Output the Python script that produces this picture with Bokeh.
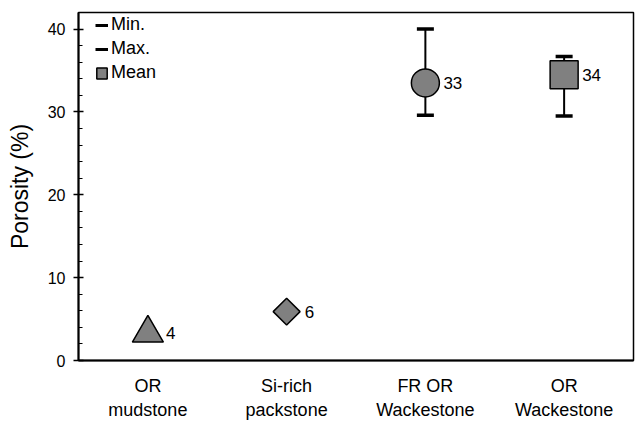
import math
from bokeh.plotting import figure
from bokeh.models import ColumnDataSource, FixedTicker, SingleIntervalTicker, Legend, LegendItem
from bokeh.core.properties import value
from bokeh.embed import file_html
from bokeh.resources import INLINE

# ---- data ----
categories = ["OR\nmudstone", "Si-rich\npackstone", "FR OR\nWackestone", "OR\nWackestone"]
means = [3.3, 5.9, 33.5, 34.5]
mins = [None, None, 29.6, 29.5]
maxs = [None, None, 40.0, 36.7]
mean_labels = ["4", "6", "33", "34"]
markers = ["triangle", "diamond", "circle", "square"]

# ---- styles ----
FONT = "Liberation Sans"
FILL = "#808080"
marker_style = {
    "triangle": ("triangle", 31, 0.0),
    "diamond": ("square", 19, math.pi / 4),
    "circle": ("circle", 28, 0.0),
    "square": ("square", 28, 0.0),
}

xs = list(range(1, len(categories) + 1))

p = figure(width=638, height=423, x_range=(0.5, 4.5), y_range=(0, 42),
           output_backend="svg", toolbar_location=None,
           min_border_left=78, min_border_right=5, min_border_top=12, min_border_bottom=63)

p.xgrid.grid_line_color = None
p.ygrid.grid_line_color = None
p.outline_line_color = "black"
p.outline_line_width = 1.5
p.background_fill_color = "white"
p.border_fill_color = "white"

# x axis
p.xaxis.ticker = FixedTicker(ticks=xs)
p.xaxis.major_label_overrides = {x: c for x, c in zip(xs, categories)}
p.xaxis.major_tick_line_color = None
p.xaxis.minor_tick_line_color = None
p.xaxis.axis_line_color = "black"
p.xaxis.axis_line_width = 2
p.xaxis.major_label_text_font = FONT
p.xaxis.major_label_text_font_size = "18px"
p.xaxis.major_label_text_color = "black"
p.xaxis.major_label_standoff = 9

# y axis
p.yaxis.ticker = SingleIntervalTicker(interval=10, num_minor_ticks=5)
p.yaxis.axis_line_color = "black"
p.yaxis.axis_line_width = 2
p.yaxis.major_tick_in = 5
p.yaxis.major_tick_out = 5
p.yaxis.major_tick_line_width = 1.5
p.yaxis.minor_tick_in = 4
p.yaxis.minor_tick_out = 0
p.yaxis.minor_tick_line_width = 1
p.yaxis.major_label_text_font = FONT
p.yaxis.major_label_text_font_size = "16px"
p.yaxis.major_label_text_color = "black"
p.yaxis.major_label_standoff = 8
p.yaxis.axis_label = "Porosity (%)"
p.yaxis.axis_label_text_font = FONT
p.yaxis.axis_label_text_font_size = "23px"
p.yaxis.axis_label_text_font_style = "normal"
p.yaxis.axis_label_text_color = "black"
p.yaxis.axis_label_standoff = 12

# error bars
ex = [x for x, lo in zip(xs, mins) if lo is not None]
elo = [lo for lo in mins if lo is not None]
ehi = [hi for hi in maxs if hi is not None]
esrc = ColumnDataSource(dict(x=ex, lo=elo, hi=ehi))
p.segment(x0="x", y0="lo", x1="x", y1="hi", source=esrc, line_color="black", line_width=2)
p.scatter(x="x", y="lo", source=esrc, marker="dash", size=17, line_color="black", line_width=3.5)
p.scatter(x="x", y="hi", source=esrc, marker="dash", size=17, line_color="black", line_width=3.5)

# mean markers
msrc = ColumnDataSource(dict(
    x=xs, y=means,
    marker=[marker_style[m][0] for m in markers],
    size=[marker_style[m][1] for m in markers],
    angle=[marker_style[m][2] for m in markers],
    label=mean_labels,
))
p.scatter(x="x", y="y", marker="marker", size="size", angle="angle", source=msrc,
          fill_color=FILL, line_color="black", line_width=1.5)
p.text(x="x", y="y", text="label", source=msrc, x_offset=18,
       text_align="left", text_baseline="middle",
       text_font=value(FONT), text_font_size="17px", text_color="black")

# legend with off-screen dummy renderers
r_min = p.line(x=[-10, -9], y=[-10, -10], line_color="black", line_width=3)
r_max = p.line(x=[-10, -9], y=[-10, -10], line_color="black", line_width=3)
r_mean = p.quad(left=[-10], right=[-9], bottom=[-10], top=[-9], fill_color=FILL,
                line_color="black", line_width=1.5)
legend = Legend(items=[LegendItem(label="Min.", renderers=[r_min]),
                       LegendItem(label="Max.", renderers=[r_max]),
                       LegendItem(label="Mean", renderers=[r_mean])],
                location=(17, 277), orientation="vertical")
legend.glyph_width = 13
legend.glyph_height = 14
legend.spacing = 3
legend.padding = 0
legend.margin = 0
legend.label_standoff = 3
legend.label_text_font = FONT
legend.label_text_font_size = "18px"
legend.label_text_color = "black"
legend.border_line_color = None
legend.background_fill_alpha = 0
p.add_layout(legend)

open("out.html", "w").write(file_html(p, INLINE))
